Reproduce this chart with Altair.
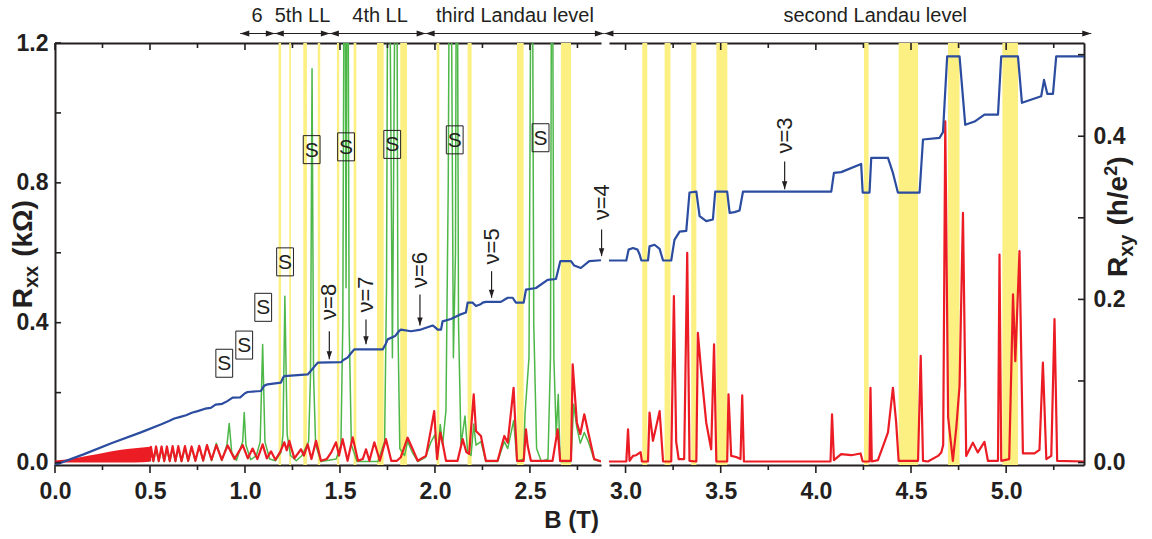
import altair as alt
import pandas as pd

FONT = "Liberation Sans"
INK = "#231f20"
RED = "#ec1c24"
BLUE = "#2b4c9f"
GREEN = "#4db748"
YELLOW = "#fcf082"

# panel geometry (pixels) and data ranges of the broken field axis
W_LEFT, W_RIGHT, H = 546, 475, 422
B_LEFT = [0.0, 2.874]
B_RIGHT = [2.913, 5.409]
RXX_DOMAIN = [-0.007, 1.2]
RXY_DOMAIN = [-0.003, 0.5143]

# shaded field ranges (T) where Rxx vanishes
band_lo_left = [1.177, 1.233, 1.307, 1.383, 1.484, 1.572, 1.695, 1.817, 2.009, 2.172, 2.432, 2.663]
band_hi_left = [1.190, 1.242, 1.326, 1.396, 1.496, 1.586, 1.730, 1.853, 2.023, 2.193, 2.467, 2.716]
band_lo_right = [3.088, 3.205, 3.345, 3.477, 4.253, 4.435, 4.694, 4.980]
band_hi_right = [3.114, 3.236, 3.372, 3.535, 4.277, 4.537, 4.755, 5.062]

# low-field Shubnikov-de Haas envelope of Rxx (kOhm)
sdh_B = [0.00, 0.03, 0.06, 0.10, 0.14, 0.18, 0.22, 0.26, 0.30, 0.34, 0.38, 0.42, 0.46, 0.50]
sdh_hi = [0.006, 0.007, 0.009, 0.012, 0.016, 0.020, 0.024, 0.028, 0.032, 0.036, 0.039, 0.041, 0.043, 0.045]
sdh_lo = [0.002, 0.001, 0.000, 0.000, 0.000, 0.000, 0.000, 0.000, 0.000, 0.000, 0.000, 0.000, 0.001, 0.002]

# Rxx, red trace (kOhm), B < 2.9 T
red_left_B = [0.500, 0.505, 0.518, 0.532, 0.546, 0.561, 0.575, 0.589, 0.604, 0.619, 0.634, 0.649,
              0.666, 0.684, 0.701, 0.719, 0.739, 0.759, 0.780, 0.800, 0.824, 0.849, 0.878, 0.909,
              0.945, 0.988, 1.015, 1.040, 1.065, 1.093, 1.115, 1.137, 1.160, 1.185, 1.207, 1.220,
              1.233, 1.260, 1.295, 1.310, 1.330, 1.350, 1.374, 1.400, 1.430, 1.455, 1.479, 1.495,
              1.514, 1.540, 1.567, 1.595, 1.620, 1.637, 1.655, 1.681, 1.710, 1.742, 1.770, 1.800,
              1.820, 1.856, 1.883, 1.909, 1.953, 1.979, 1.996, 2.011, 2.028, 2.040, 2.058, 2.119,
              2.146, 2.165, 2.180, 2.204, 2.216, 2.242, 2.268, 2.330, 2.365, 2.383, 2.414, 2.432,
              2.467, 2.479, 2.488, 2.505, 2.619, 2.646, 2.659, 2.716, 2.725, 2.747, 2.765, 2.786,
              2.807, 2.838, 2.874]
red_left_R = [0.004, 0.045, 0.004, 0.046, 0.004, 0.046, 0.004, 0.046, 0.004, 0.047, 0.004, 0.047,
              0.004, 0.047, 0.005, 0.046, 0.005, 0.048, 0.006, 0.050, 0.008, 0.050, 0.008, 0.049,
              0.010, 0.050, 0.012, 0.040, 0.010, 0.052, 0.012, 0.032, 0.008, 0.030, 0.058, 0.035,
              0.062, 0.012, 0.038, 0.020, 0.052, 0.010, 0.062, 0.005, 0.010, 0.030, 0.058, 0.020,
              0.067, 0.005, 0.072, 0.005, 0.010, 0.038, 0.005, 0.058, 0.005, 0.067, 0.005, 0.005,
              0.015, 0.071, 0.038, 0.005, 0.019, 0.095, 0.147, 0.010, 0.086, 0.057, 0.005, 0.005,
              0.067, 0.030, 0.025, 0.195, 0.090, 0.076, 0.005, 0.005, 0.076, 0.057, 0.214, 0.005,
              0.005, 0.095, 0.048, 0.005, 0.005, 0.095, 0.005, 0.005, 0.281, 0.114, 0.081, 0.138,
              0.086, 0.010, 0.003]

# Rxx, red trace (kOhm), B > 2.9 T
red_right_B = [2.913, 3.004, 3.013, 3.021, 3.039, 3.056, 3.079, 3.086, 3.118, 3.126, 3.144, 3.179,
               3.197, 3.240, 3.254, 3.266, 3.279, 3.308, 3.324, 3.336, 3.372, 3.380, 3.398, 3.424,
               3.450, 3.465, 3.477, 3.534, 3.541, 3.555, 3.581, 3.604, 3.613, 3.622, 4.077, 4.085,
               4.095, 4.133, 4.186, 4.235, 4.246, 4.282, 4.287, 4.294, 4.326, 4.353, 4.379, 4.405,
               4.422, 4.435, 4.537, 4.551, 4.563, 4.589, 4.642, 4.659, 4.669, 4.680, 4.695, 4.720,
               4.738, 4.755, 4.773, 4.790, 4.825, 4.851, 4.886, 4.904, 4.957, 4.965, 4.974, 5.016,
               5.036, 5.048, 5.070, 5.088, 5.149, 5.175, 5.193, 5.211, 5.237, 5.254, 5.268, 5.409]
red_right_R = [0.003, 0.003, 0.095, 0.005, 0.019, 0.021, 0.030, 0.003, 0.003, 0.143, 0.062, 0.147,
               0.003, 0.003, 0.476, 0.060, 0.010, 0.010, 0.600, 0.005, 0.003, 0.371, 0.257, 0.114,
               0.038, 0.338, 0.003, 0.003, 0.195, 0.019, 0.016, 0.010, 0.192, 0.003, 0.003, 0.138,
               0.007, 0.024, 0.021, 0.026, 0.003, 0.003, 0.214, 0.003, 0.007, 0.047, 0.086, 0.214,
               0.114, 0.005, 0.005, 0.305, 0.005, 0.003, 0.019, 0.029, 0.050, 0.976, 0.130, 0.005,
               0.100, 0.219, 0.714, 0.019, 0.057, 0.029, 0.059, 0.005, 0.005, 0.595, 0.005, 0.010,
               0.481, 0.290, 0.605, 0.026, 0.026, 0.036, 0.286, 0.010, 0.019, 0.410, 0.005, 0.003]

# Rxx, green trace (kOhm); the tallest peaks run off the top of the frame
green_B = [0.500, 0.505, 0.518, 0.532, 0.546, 0.561, 0.575, 0.589, 0.604, 0.619, 0.634, 0.649,
           0.666, 0.684, 0.701, 0.719, 0.739, 0.759, 0.780, 0.800, 0.824, 0.849, 0.878, 0.905,
           0.917, 0.930, 0.955, 0.988, 0.996, 1.005, 1.030, 1.060, 1.080, 1.093, 1.105, 1.130,
           1.160, 1.190, 1.200, 1.210, 1.222, 1.240, 1.270, 1.300, 1.335, 1.345, 1.353, 1.361,
           1.372, 1.400, 1.480, 1.505, 1.515, 1.525, 1.532, 1.540, 1.548, 1.560, 1.590, 1.700,
           1.735, 1.745, 1.755, 1.776, 1.797, 1.805, 1.815, 1.840, 1.856, 1.880, 1.910, 1.950,
           1.980, 2.000, 2.012, 2.028, 2.040, 2.058, 2.070, 2.080, 2.097, 2.108, 2.115, 2.124,
           2.137, 2.158, 2.172, 2.190, 2.204, 2.216, 2.242, 2.268, 2.330, 2.365, 2.383, 2.414,
           2.432, 2.467, 2.474, 2.495, 2.510, 2.520, 2.535, 2.560, 2.595, 2.608, 2.616, 2.626,
           2.638, 2.649, 2.659, 2.716, 2.730, 2.747, 2.765, 2.786, 2.807, 2.838, 2.874]
green_R = [0.003, 0.036, 0.003, 0.037, 0.003, 0.038, 0.003, 0.038, 0.003, 0.040, 0.003, 0.040,
           0.003, 0.042, 0.003, 0.042, 0.004, 0.045, 0.004, 0.050, 0.005, 0.055, 0.006, 0.050,
           0.112, 0.030, 0.006, 0.060, 0.143, 0.050, 0.008, 0.020, 0.060, 0.338, 0.060, 0.010,
           0.005, 0.030, 0.080, 0.476, 0.080, 0.020, 0.005, 0.020, 0.060, 0.250, 1.126, 0.250,
           0.050, 0.003, 0.010, 0.050, 0.400, 2.000, 0.500, 2.000, 0.400, 0.050, 0.003, 0.003,
           0.060, 0.500, 2.000, 0.300, 2.000, 0.400, 0.040, 0.020, 0.060, 0.030, 0.003, 0.015,
           0.060, 0.080, 0.010, 0.109, 0.050, 0.150, 0.800, 2.000, 0.300, 0.600, 2.000, 0.400,
           0.050, 0.133, 0.030, 0.020, 0.110, 0.050, 0.060, 0.003, 0.003, 0.060, 0.040, 0.120,
           0.003, 0.010, 0.138, 0.300, 2.000, 0.400, 0.040, 0.003, 0.010, 0.300, 2.000, 0.300,
           0.080, 0.195, 0.003, 0.003, 0.167, 0.100, 0.055, 0.086, 0.060, 0.008, 0.003]

# Rxy, blue trace (h/e^2)
blue_left_B = [0.000, 0.150, 0.300, 0.452, 0.560, 0.600, 0.628, 0.660, 0.690, 0.720, 0.751, 0.790,
               0.820, 0.845, 0.880, 0.905, 0.935, 0.975, 1.000, 1.014, 1.084, 1.100, 1.119, 1.189,
               1.200, 1.207, 1.330, 1.345, 1.374, 1.383, 1.505, 1.520, 1.540, 1.555, 1.575, 1.725,
               1.740, 1.751, 1.790, 1.810, 1.821, 1.874, 1.926, 1.988, 2.000, 2.014, 2.032, 2.040,
               2.084, 2.128, 2.163, 2.172, 2.198, 2.216, 2.240, 2.251, 2.268, 2.347, 2.383, 2.409,
               2.426, 2.467, 2.479, 2.532, 2.593, 2.637, 2.660, 2.716, 2.733, 2.768, 2.812, 2.874]
blue_left_R = [-0.003, 0.010, 0.024, 0.037, 0.047, 0.051, 0.054, 0.056, 0.058, 0.061, 0.063, 0.066,
               0.067, 0.071, 0.072, 0.075, 0.0796, 0.080, 0.085, 0.0865, 0.0877, 0.094, 0.0959, 0.098,
               0.104, 0.106, 0.108, 0.112, 0.120, 0.1224, 0.123, 0.126, 0.1286, 0.133, 0.1387, 0.1387,
               0.145, 0.151, 0.155, 0.161, 0.163, 0.161, 0.163, 0.168, 0.166, 0.163, 0.163, 0.173,
               0.176, 0.181, 0.184, 0.196, 0.196, 0.192, 0.194, 0.196, 0.197, 0.197, 0.202, 0.202,
               0.196, 0.196, 0.212, 0.214, 0.224, 0.225, 0.247, 0.247, 0.2415, 0.2385, 0.247, 0.248]
blue_right_B = [2.911, 3.004, 3.016, 3.039, 3.063, 3.074, 3.083, 3.118, 3.126, 3.152, 3.179, 3.197,
                3.240, 3.257, 3.284, 3.319, 3.336, 3.372, 3.389, 3.424, 3.459, 3.471, 3.534, 3.547,
                3.573, 3.599, 3.617, 4.081, 4.095, 4.133, 4.238, 4.246, 4.282, 4.291, 4.379, 4.405,
                4.431, 4.545, 4.563, 4.650, 4.668, 4.690, 4.755, 4.785, 4.834, 4.886, 4.957, 4.974,
                5.062, 5.083, 5.184, 5.199, 5.216, 5.246, 5.263, 5.409]
blue_right_R = [0.2477, 0.2477, 0.261, 0.263, 0.261, 0.255, 0.2477, 0.2477, 0.265, 0.267, 0.262, 0.2477,
                0.2477, 0.273, 0.283, 0.284, 0.331, 0.332, 0.302, 0.296, 0.298, 0.332, 0.332, 0.306,
                0.307, 0.309, 0.332, 0.332, 0.355, 0.356, 0.366, 0.331, 0.331, 0.3735, 0.3735, 0.355,
                0.331, 0.331, 0.396, 0.398, 0.405, 0.498, 0.498, 0.414, 0.418, 0.4265, 0.4265, 0.498,
                0.498, 0.441, 0.449, 0.469, 0.452, 0.452, 0.498, 0.498]

# axis ticks
xmajor_left = [0.0, 0.5, 1.0, 1.5, 2.0, 2.5]
xminor_left = [0.25, 0.75, 1.25, 1.75, 2.25, 2.75]
xmajor_right = [3.0, 3.5, 4.0, 4.5, 5.0]
xminor_right = [3.25, 3.75, 4.25, 4.75, 5.25]
rxx_ticks = [0.0, 0.2, 0.4, 0.6, 0.8, 1.0, 1.2]
rxx_labels = [0.0, 0.4, 0.8, 1.2]
rxy_ticks = [0.0, 0.1, 0.2, 0.3, 0.4, 0.5]
rxy_labels = [0.0, 0.2, 0.4]

# filling-factor markers (position in B and Rxy)
nu_text_left = ["\u03bd=8", "\u03bd=7", "\u03bd=6", "\u03bd=5", "\u03bd=4"]
nu_B_left = [1.444, 1.637, 1.921, 2.298, 2.877]
nu_label_left = [0.197, 0.206, 0.236, 0.265, 0.319]
nu_top_left = [0.161, 0.1755, 0.206, 0.2346, 0.2857]
nu_tip_left = [0.1265, 0.145, 0.168, 0.202, 0.253]
nu_text_right = ["\u03bd=3"]
nu_B_right = [3.836]
nu_label_right = [0.401]
nu_top_right = [0.369]
nu_tip_right = [0.335]

# boxed "S" markers (B, Rxx)
s_B = [0.891, 0.996, 1.096, 1.211, 1.351, 1.532, 1.775, 2.104, 2.556]
s_R = [0.284, 0.336, 0.444, 0.574, 0.895, 0.903, 0.910, 0.923, 0.929]

# Landau-level ranges drawn above the frame
ll_text_left = ["6", "5th LL", "4th LL", "third Landau level"]
ll_lo_left = [0.975, 1.157, 1.447, 1.951]
ll_hi_left = [1.157, 1.447, 1.951, 2.889]
ll_mid_left = [1.063, 1.303, 1.711, 2.421]
ll_text_right = ["second Landau level"]
ll_lo_right = [2.889]
ll_hi_right = [5.447]
ll_mid_right = [4.312]

HEAD_R = "M0,0L-1,-0.32L-1,0.32Z"
HEAD_L = "M0,0L1,-0.32L1,0.32Z"
HEAD_D = "M0,0L-0.34,-1L0.34,-1Z"
BOX = "M-0.6,-1L0.6,-1L0.6,1L-0.6,1Z"

YXX = alt.Scale(domain=RXX_DOMAIN, nice=False, zero=False)
YXY = alt.Scale(domain=RXY_DOMAIN, nice=False, zero=False)


def xscale(dom):
    return alt.Scale(domain=dom, nice=False, zero=False)


def trace(Bs, vals, yscale, color, width, dom):
    df = pd.DataFrame({"B": Bs, "v": vals})
    return alt.Chart(df).mark_line(color=color, strokeWidth=width, clip=True,
                                   strokeJoin="round").encode(
        x=alt.X("B:Q", scale=xscale(dom), axis=None),
        y=alt.Y("v:Q", scale=yscale, axis=None),
    )


def bands(lo, hi, dom):
    df = pd.DataFrame({"b0": lo, "b1": hi})
    return alt.Chart(df).mark_rect(color=YELLOW, clip=True).encode(
        x=alt.X("b0:Q", scale=xscale(dom), axis=None), x2="b1:Q")


def xticks(vals, dom, y0, y1, axis=None):
    df = pd.DataFrame({"B": vals})
    return alt.Chart(df).mark_rule(color=INK, strokeWidth=1.6).encode(
        x=alt.X("B:Q", scale=xscale(dom), axis=axis),
        y=alt.value(y0), y2=alt.value(y1))


def yticks(vals, yscale, x0, x1, axis=None):
    df = pd.DataFrame({"v": vals})
    return alt.Chart(df).mark_rule(color=INK, strokeWidth=1.6).encode(
        y=alt.Y("v:Q", scale=yscale, axis=axis),
        x=alt.value(x0), x2=alt.value(x1))


def nu_marks(texts, Bs, ylab, ytop, ytip, dom):
    df = pd.DataFrame({"t": texts, "B": Bs, "yl": ylab, "y0": ytop, "y1": ytip})
    base = alt.Chart(df)
    xe = alt.X("B:Q", scale=xscale(dom), axis=None)
    shaft = base.mark_rule(color=INK, strokeWidth=1.2).encode(
        x=xe, y=alt.Y("y0:Q", scale=YXY, axis=None), y2="y1:Q")
    head = base.mark_point(shape=HEAD_D, filled=True, color=INK, opacity=1, size=256).encode(
        x=xe, y=alt.Y("y1:Q", scale=YXY, axis=None))
    txt = base.mark_text(font=FONT, fontSize=22, color=INK, angle=270,
                         align="center", baseline="middle").encode(
        x=xe, y=alt.Y("yl:Q", scale=YXY, axis=None), text="t:N")
    return [shaft, head, txt]


def ll_marks(texts, lo, hi, mid, dom):
    df = pd.DataFrame({"t": texts, "lo": lo, "hi": hi, "mid": mid})
    base = alt.Chart(df)
    sc = xscale(dom)
    shaft = base.mark_rule(color=INK, strokeWidth=1.2).encode(
        x=alt.X("lo:Q", scale=sc, axis=None), x2="hi:Q", y=alt.value(-9.5))
    hl = base.mark_point(shape=HEAD_L, filled=True, color=INK, opacity=1, size=324).encode(
        x=alt.X("lo:Q", scale=sc, axis=None), y=alt.value(-9.5))
    hr = base.mark_point(shape=HEAD_R, filled=True, color=INK, opacity=1, size=324).encode(
        x=alt.X("hi:Q", scale=sc, axis=None), y=alt.value(-9.5))
    txt = base.mark_text(font=FONT, fontSize=20, color=INK, baseline="middle").encode(
        x=alt.X("mid:Q", scale=sc, axis=None), y=alt.value(-27), text="t:N")
    return [shaft, hl, hr, txt]


def word(text, x, y, size, angle=0, align="left", baseline="alphabetic", weight="bold"):
    return alt.Chart(pd.DataFrame({"k": [0]})).mark_text(
        text=text, font=FONT, fontSize=size, fontWeight=weight, color=INK, angle=angle,
        align=align, baseline=baseline).encode(x=alt.value(x), y=alt.value(y))


label_style = dict(labelFont=FONT, labelFontSize=23, labelFontWeight="bold", labelColor=INK,
                   labelFlush=False, labelOverlap=False,
                   domainColor=INK, domainWidth=2, ticks=False, grid=False, title=None)

bottom_left = alt.Axis(orient="bottom", values=xmajor_left, format=".1f", labelPadding=15,
                       **label_style)
bottom_right = alt.Axis(orient="bottom", values=xmajor_right, format=".1f", labelPadding=15,
                        **label_style)
top_axis = alt.Axis(orient="top", labels=False, domain=True, domainColor=INK, domainWidth=2,
                    ticks=False, grid=False, title=None)
left_axis = alt.Axis(orient="left", values=rxx_labels, format=".1f", labelPadding=7,
                     **label_style)
right_axis = alt.Axis(orient="right", values=rxy_labels, format=".1f", labelPadding=9,
                      **label_style)

# ---------- left panel: 0 - 2.87 T ----------
sdh_df = pd.DataFrame({"B": sdh_B, "lo": sdh_lo, "hi": sdh_hi})
sdh_area = alt.Chart(sdh_df).mark_area(color=RED, clip=True).encode(
    x=alt.X("B:Q", scale=xscale(B_LEFT), axis=None),
    y=alt.Y("lo:Q", scale=YXX, axis=None), y2="hi:Q")

s_df = pd.DataFrame({"B": s_B, "R": s_R, "t": ["S"] * len(s_B)})
s_box = alt.Chart(s_df).mark_point(shape=BOX, filled=False, color=INK, opacity=1,
                                   strokeWidth=1, size=784).encode(
    x=alt.X("B:Q", scale=xscale(B_LEFT), axis=None),
    y=alt.Y("R:Q", scale=YXX, axis=None))
s_txt = alt.Chart(s_df).mark_text(font=FONT, fontSize=21, color=INK, baseline="middle",
                                  dy=1).encode(
    x=alt.X("B:Q", scale=xscale(B_LEFT), axis=None),
    y=alt.Y("R:Q", scale=YXX, axis=None), text="t:N")

left_layers = [
    bands(band_lo_left, band_hi_left, B_LEFT),
    sdh_area,
    trace(green_B, green_R, YXX, GREEN, 1.5, B_LEFT),
    trace(red_left_B, red_left_R, YXX, RED, 2.2, B_LEFT),
    trace(blue_left_B, blue_left_R, YXY, BLUE, 2.2, B_LEFT),
    xticks(xmajor_left, B_LEFT, H, H + 8, axis=bottom_left),
    xticks(xminor_left, B_LEFT, H, H + 5),
    xticks(xmajor_left, B_LEFT, 0, 7, axis=top_axis),
    xticks(xminor_left, B_LEFT, 0, 5),
    yticks(rxx_ticks, YXX, 0, 6, axis=left_axis),
    s_box, s_txt,
    *nu_marks(nu_text_left, nu_B_left, nu_label_left, nu_top_left, nu_tip_left, B_LEFT),
    *ll_marks(ll_text_left, ll_lo_left, ll_hi_left, ll_mid_left, B_LEFT),
    # vertical title: R_xx (kOhm), built from pieces so the subscript sits lower
    word("R", -23, 265.2, 28, angle=270),
    word("xx", -17, 245.0, 20, angle=270),
    word("(k\u03a9)", -23, 213.8, 28, angle=270),
    word("B (T)", 544, 478, 24, align="right", baseline="middle"),
]
left = alt.layer(*left_layers).resolve_scale(y="independent").resolve_axis(
    x="independent").properties(width=W_LEFT, height=H)

# ---------- right panel: 2.91 - 5.41 T ----------
right_layers = [
    bands(band_lo_right, band_hi_right, B_RIGHT),
    trace(red_right_B, red_right_R, YXX, RED, 2.2, B_RIGHT),
    trace(blue_right_B, blue_right_R, YXY, BLUE, 2.2, B_RIGHT),
    xticks(xmajor_right, B_RIGHT, H, H + 8, axis=bottom_right),
    xticks(xminor_right, B_RIGHT, H, H + 5),
    xticks(xmajor_right, B_RIGHT, 0, 7, axis=top_axis),
    xticks(xminor_right, B_RIGHT, 0, 5),
    yticks(rxy_ticks, YXY, W_RIGHT - 6, W_RIGHT, axis=right_axis),
    *nu_marks(nu_text_right, nu_B_right, nu_label_right, nu_top_right, nu_tip_right, B_RIGHT),
    *ll_marks(ll_text_right, ll_lo_right, ll_hi_right, ll_mid_right, B_RIGHT),
    # vertical title: R_xy (h/e^2)
    word("R", 518.3, 234, 28, angle=270),
    word("xy", 524, 213.8, 20, angle=270),
    word("(h/e", 518.3, 182.6, 28, angle=270),
    word("2", 508.3, 132.8, 18, angle=270),
    word(")", 518.3, 122.8, 28, angle=270),
]
right = alt.layer(*right_layers).resolve_scale(y="independent").resolve_axis(
    x="independent").properties(width=W_RIGHT, height=H)

chart = alt.hconcat(left, right, spacing=8, bounds="flush").resolve_scale(
    x="independent", y="independent").configure_view(stroke=None).properties(
    padding={"left": 10, "top": 6, "right": 5, "bottom": 5}, background="white")

chart.save("out.html", embed_options={"renderer": "svg", "actions": False})
